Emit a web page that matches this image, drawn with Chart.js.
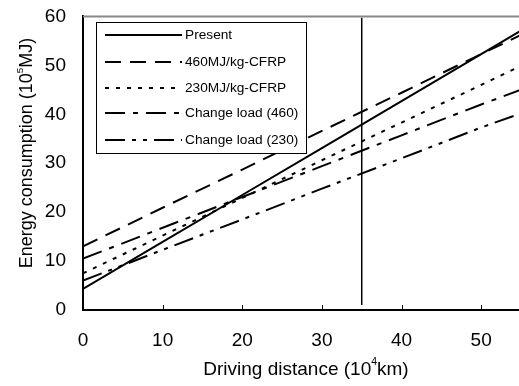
<!DOCTYPE html>
<html>
<head>
<meta charset="utf-8">
<script src="https://cdn.jsdelivr.net/npm/chart.js@4"></script>
<style>
  html, body { margin: 0; padding: 0; background: #fff; overflow: hidden; }
  canvas { display: block; margin-top: -12px; }
</style>
</head>
<body>
<canvas id="grafico" width="523" height="398"></canvas>
<script>
// datos
var distancia = [0, 10, 20, 30, 40, 50, 55];
var actual    = [4.3, 13.9, 23.5, 33.1, 42.7, 52.3, 57.1];
var cfrp460   = [13.0, 20.9, 28.7, 36.6, 44.4, 52.3, 56.2];
var cfrp230   = [7.5, 15.2, 22.9, 30.6, 38.3, 46.0, 49.9];
var carga460  = [10.5, 16.8, 23.1, 29.4, 35.7, 42.0, 45.0];
var carga230  = [6.0, 12.3, 18.5, 24.8, 31.0, 37.3, 40.2];
var nombres = ["Present", "460MJ/kg-CFRP", "230MJ/kg-CFRP", "Change load (460)", "Change load (230)"];
var marcaX = [35, 35];
var marcaY = [1, 59.7];
var ticksX = [0, 10, 20, 30, 40, 50];
var ticksY = [0, 10, 20, 30, 40, 50, 60];

var trazos = [[], [16, 9], [4, 7], [20, 8, 5, 8], [20, 7, 4, 7, 4, 7]];
var series = [actual, cfrp460, cfrp230, carga460, carga230];
var desp = 12; // el canvas sube 12px con css

function puntos(xs, ys){
    return xs.map(function(x, i){ return {x: x, y: ys[i]}; });
}

var datasets = series.map(function(s, i){
    return {
        label: nombres[i],
        data: puntos(distancia, s),
        borderColor: "#000",
        borderWidth: 2,
        borderDash: trazos[i],
        pointRadius: 0,
        fill: false,
        tension: 0
    };
});
datasets.push({
    label: "marca",
    data: puntos(marcaX, marcaY),
    borderColor: "#000",
    borderWidth: 1.5,
    pointRadius: 0,
    fill: false
});

// texto con superindice
function textoSup(ctx, partes, x, y, tam){
    var total = 0;
    partes.forEach(function(p){
        ctx.font = (p.sup ? tam * 0.55 : tam) + "px 'Liberation Sans', Arial";
        total += ctx.measureText(p.t).width;
    });
    var cx = x - total / 2;
    partes.forEach(function(p){
        ctx.font = (p.sup ? tam * 0.55 : tam) + "px 'Liberation Sans', Arial";
        ctx.fillText(p.t, cx, p.sup ? y - tam * 0.4 : y);
        cx += ctx.measureText(p.t).width;
    });
}

var extras = {
    id: "extras",
    afterDraw: function(chart){
        var ctx = chart.ctx;
        var a = chart.chartArea;
        var sx = chart.scales.x;
        ctx.save();
        // borde superior gris
        ctx.strokeStyle = "#888";
        ctx.lineWidth = 2;
        ctx.beginPath();
        ctx.moveTo(a.left, a.top);
        ctx.lineTo(a.right, a.top);
        ctx.stroke();
        // marcas hacia dentro en el eje x
        ctx.strokeStyle = "#000";
        ctx.lineWidth = 1;
        ticksX.forEach(function(v){
            if (v == 0) return;
            var px = Math.round(sx.getPixelForValue(v)) + 0.5;
            ctx.beginPath();
            ctx.moveTo(px, a.bottom);
            ctx.lineTo(px, a.bottom - 5);
            ctx.stroke();
        });
        ctx.translate(0, desp);
        // leyenda
        var lx = 96, ly = 22, lw = 210, lh = 131;
        ctx.fillStyle = "#fff";
        ctx.fillRect(lx, ly, lw, lh);
        ctx.strokeStyle = "#000";
        ctx.lineWidth = 1;
        ctx.strokeRect(lx + 0.5, ly + 0.5, lw, lh);
        var filas = [35, 62, 88, 113, 140];
        ctx.font = "13.7px 'Liberation Sans', Arial";
        ctx.textBaseline = "middle";
        ctx.textAlign = "left";
        for (var i = 0; i < 5; i++) {
            ctx.setLineDash(trazos[i]);
            ctx.lineWidth = 2;
            ctx.strokeStyle = "#000";
            ctx.beginPath();
            ctx.moveTo(105, filas[i]);
            ctx.lineTo(182, filas[i]);
            ctx.stroke();
            ctx.setLineDash([]);
            ctx.fillStyle = "#000";
            ctx.fillText(nombres[i], 185, filas[i]);
        }
        // titulos de los ejes
        ctx.fillStyle = "#000";
        ctx.textAlign = "left";
        ctx.textBaseline = "middle";
        textoSup(ctx, [{t: "Driving distance (10"}, {t: "4", sup: true}, {t: "km)"}], 306, 370, 19);
        ctx.translate(27, 153);
        ctx.rotate(-Math.PI / 2);
        textoSup(ctx, [{t: "Energy consumption (10"}, {t: "5", sup: true}, {t: "MJ)"}], 0, 0, 18);
        ctx.restore();
    }
};

var ctx = document.getElementById("grafico").getContext("2d");
var chart = new Chart(ctx, {
    type: "line",
    data: { datasets: datasets },
    options: {
        responsive: false,
        animation: false,
        layout: { padding: { top: 7, right: 2, left: 0, bottom: 0 } },
        plugins: {
            legend: { display: false },
            tooltip: { enabled: false }
        },
        scales: {
            x: {
                type: "linear",
                min: 0, max: 55,
                afterBuildTicks: function(s){ s.ticks = ticksX.map(function(v){ return {value: v}; }); },
                afterFit: function(s){ s.height = 76; },
                grid: { drawOnChartArea: false, drawTicks: false },
                border: { color: "#000", width: 2 },
                ticks: { color: "#000", padding: 19, font: { family: "'Liberation Sans', Arial", size: 19 } }
            },
            y: {
                min: 0, max: 60,
                afterBuildTicks: function(s){ s.ticks = ticksY.map(function(v){ return {value: v}; }); },
                afterFit: function(s){ s.width = 83; },
                grid: { drawOnChartArea: false, drawTicks: false },
                border: { color: "#000", width: 2 },
                ticks: { color: "#000", padding: 17, font: { family: "'Liberation Sans', Arial", size: 19 } }
            }
        }
    },
    plugins: [extras]
});
</script>
</body>
</html>
